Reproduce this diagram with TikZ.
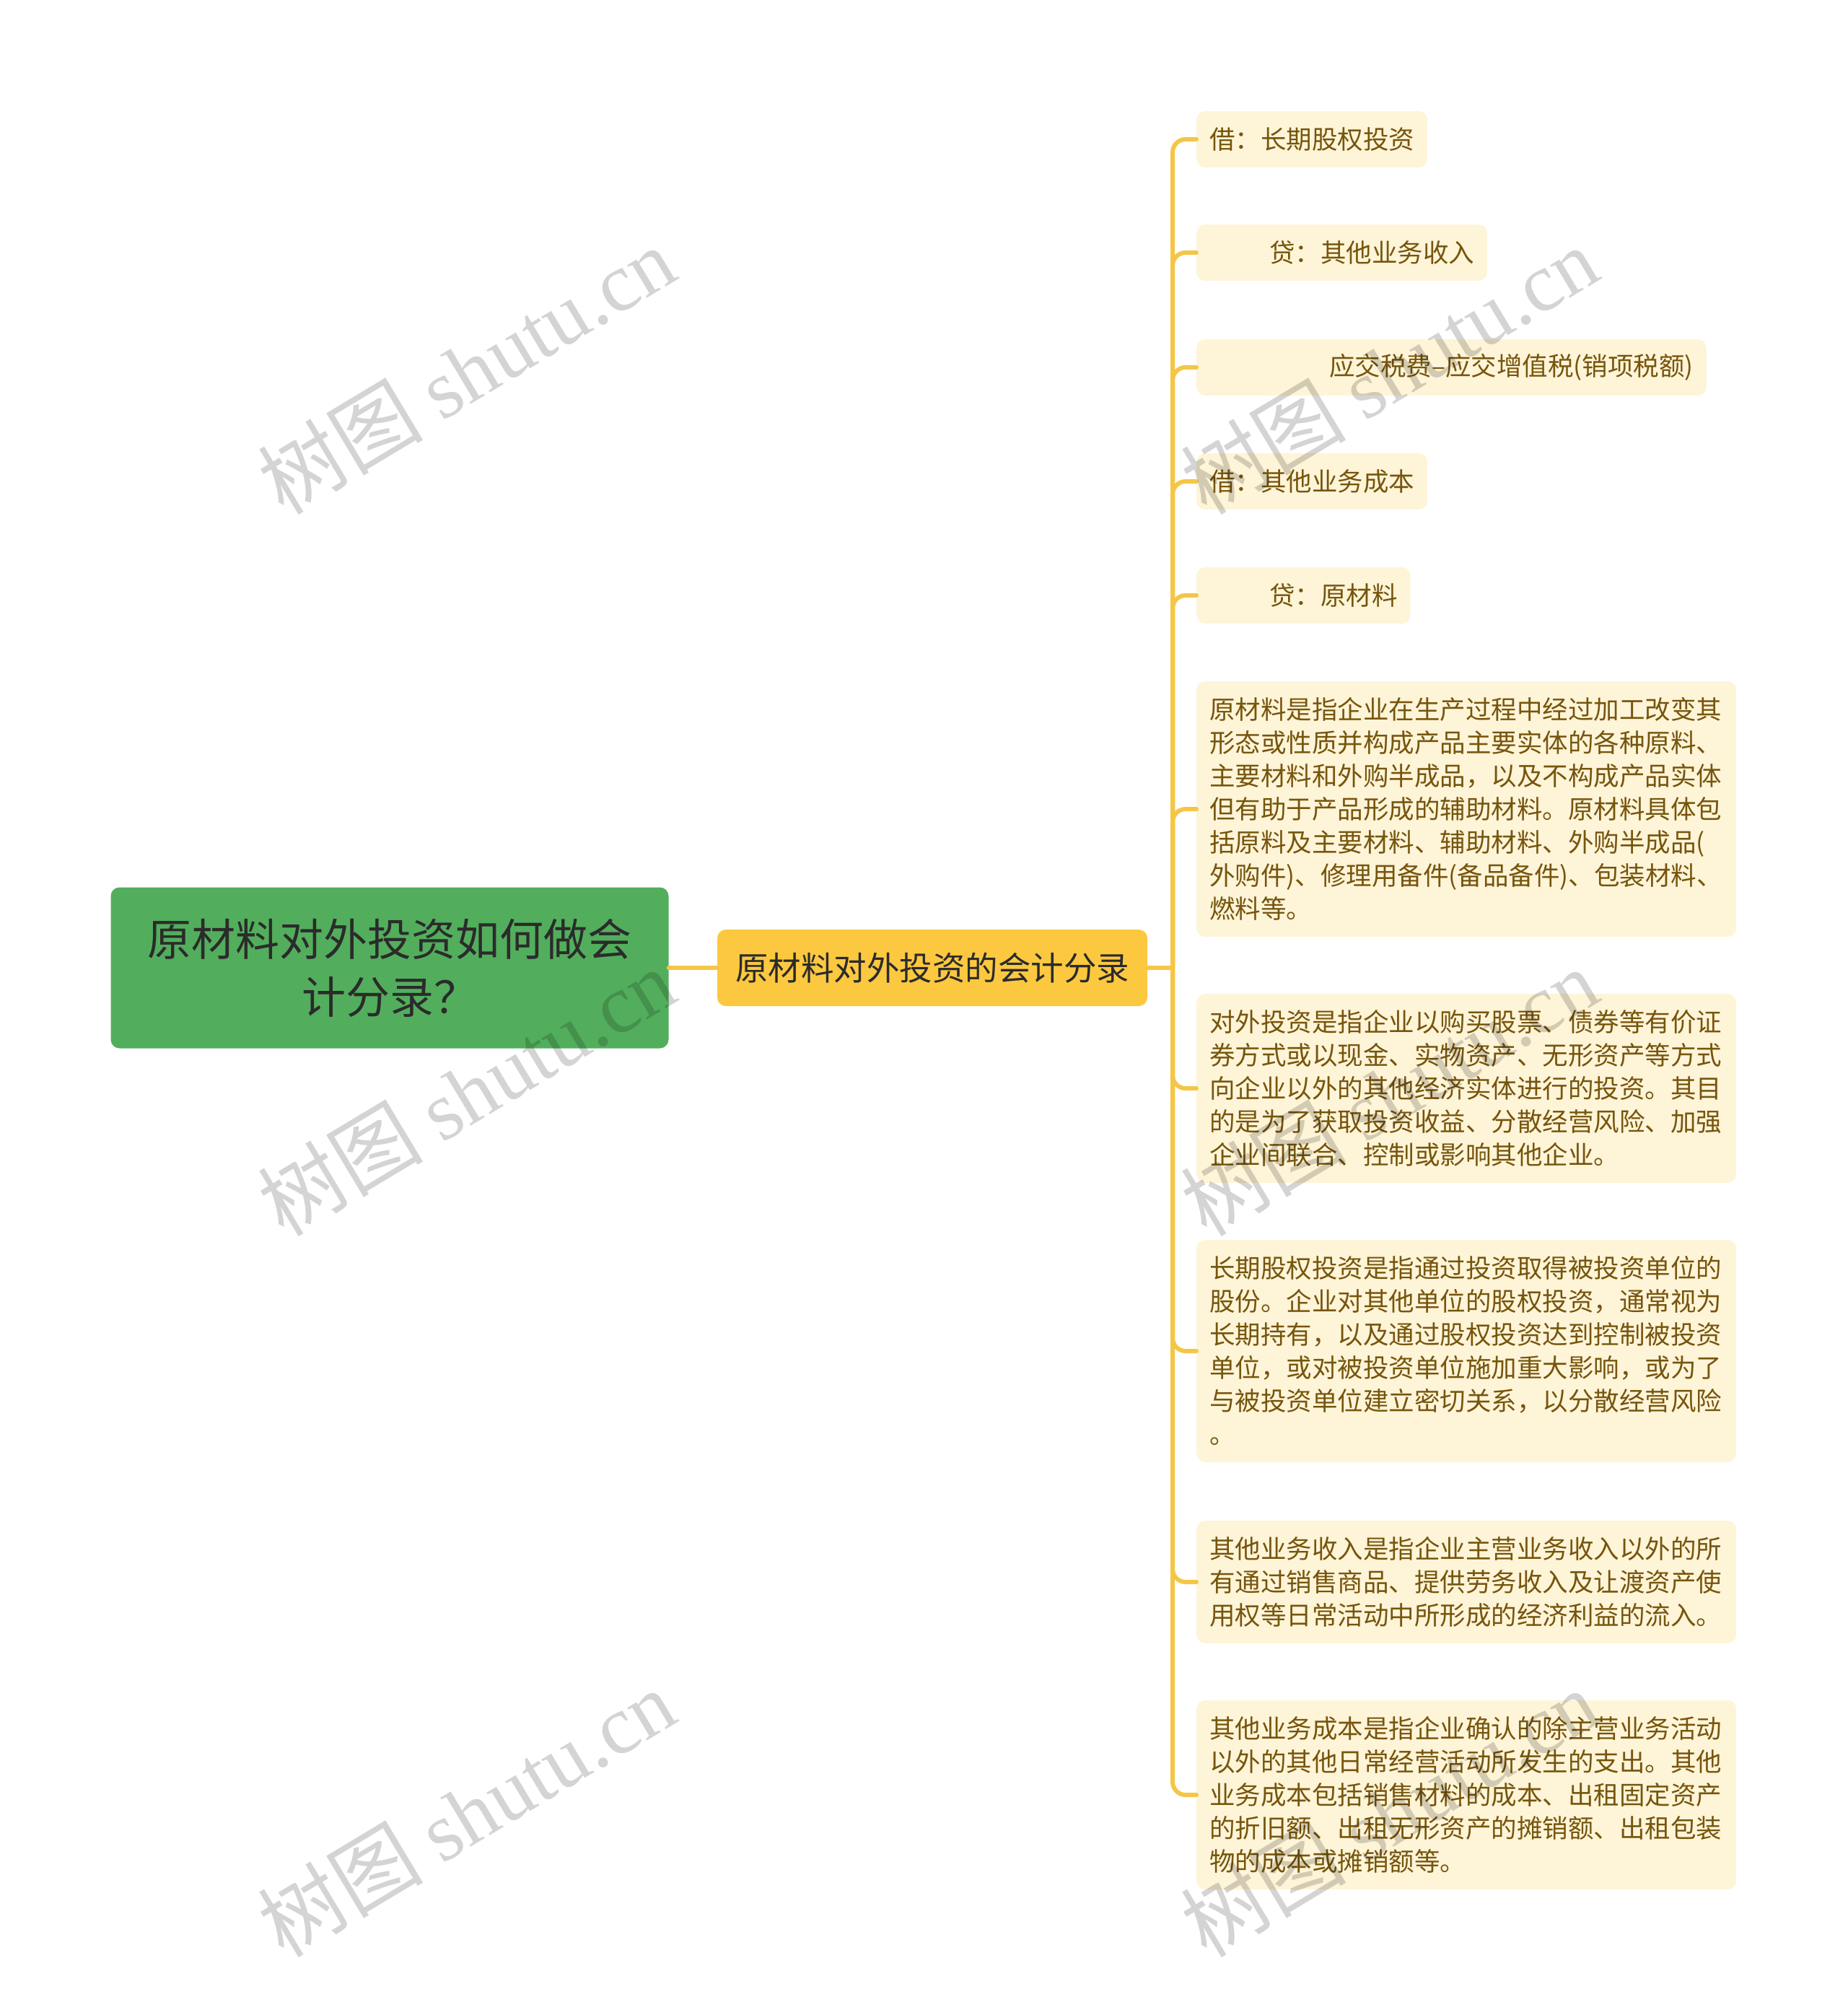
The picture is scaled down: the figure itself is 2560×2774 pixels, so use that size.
\documentclass[tikz,border=0pt]{standalone}
\usepackage{fontspec}
\setmainfont{Noto Sans CJK SC}
\newfontfamily\wmserif{Liberation Serif}
\definecolor{rootgreen}{HTML}{52AE5C}
\definecolor{roottext}{HTML}{2B2B2B}
\definecolor{midyellow}{HTML}{FCC840}
\definecolor{linkcol}{HTML}{F5C646}
\definecolor{leaffill}{HTML}{FEF4D8}
\definecolor{leaftext}{HTML}{76550C}
\begin{document}
\begin{tikzpicture}[x=1pt,y=-1pt,line join=round,line cap=round]
	\tikzset{leaf/.style={fill=leaffill,rounded corners=12pt,anchor=west,inner xsep=18pt,inner ysep=0pt,align=left,text=leaftext,font=\fontsize{35.5}{46}\selectfont},
		para/.style={leaf,text width=712pt},
		link/.style={draw=linkcol,line width=6pt,rounded corners=18pt},
		wmark/.style={rotate=31,text=black,text opacity=0.17,font=\fontsize{115}{115}\selectfont}}
	\useasboundingbox (0,0) rectangle (2560,2774);
	\node[fill=rootgreen,rounded corners=12pt,minimum width=773pt,minimum height=223pt,align=center,text=roottext,font=\fontsize{61}{80}\selectfont] (root) at (540,1341) {原材料对外投资如何做会\\计分录？};
	\node[fill=midyellow,rounded corners=12pt,minimum width=596pt,minimum height=106pt,text=roottext,font=\fontsize{45.5}{50}\selectfont] (mid) at (1292,1341) {原材料对外投资的会计分录};
	\coordinate (fork) at (1625,1341);
	\node[leaf,minimum height=78pt] (dr1) at (1658,193) {借：长期股权投资};
	\node[leaf,minimum height=78pt] (cr1) at (1658,350) {\hspace*{83pt}贷：其他业务收入};
	\node[leaf,minimum height=78pt] (cr2) at (1658,509) {\hspace*{166pt}应交税费–应交增值税(销项税额)};
	\node[leaf,minimum height=78pt] (dr2) at (1658,667) {借：其他业务成本};
	\node[leaf,minimum height=78pt] (cr3) at (1658,825) {\hspace*{83pt}贷：原材料};
	\node[para,minimum height=354pt] (rawdef) at (1658,1121) {原材料是指企业在生产过程中经过加工改变其\\形态或性质并构成产品主要实体的各种原料、\\主要材料和外购半成品，以及不构成产品实体\\但有助于产品形成的辅助材料。原材料具体包\\括原料及主要材料、辅助材料、外购半成品(\\外购件)、修理用备件(备品备件)、包装材料、\\燃料等。};
	\node[para,minimum height=262pt] (invdef) at (1658,1508) {对外投资是指企业以购买股票、债券等有价证\\券方式或以现金、实物资产、无形资产等方式\\向企业以外的其他经济实体进行的投资。其目\\的是为了获取投资收益、分散经营风险、加强\\企业间联合、控制或影响其他企业。};
	\node[para,minimum height=308pt] (ltidef) at (1658,1872) {长期股权投资是指通过投资取得被投资单位的\\股份。企业对其他单位的股权投资，通常视为\\长期持有，以及通过股权投资达到控制被投资\\单位，或对被投资单位施加重大影响，或为了\\与被投资单位建立密切关系，以分散经营风险\\。};
	\node[para,minimum height=170pt] (incdef) at (1658,2192) {其他业务收入是指企业主营业务收入以外的所\\有通过销售商品、提供劳务收入及让渡资产使\\用权等日常活动中所形成的经济利益的流入。};
	\node[para,minimum height=262pt] (costdef) at (1658,2487) {其他业务成本是指企业确认的除主营业务活动\\以外的其他日常经营活动所发生的支出。其他\\业务成本包括销售材料的成本、出租固定资产\\的折旧额、出租无形资产的摊销额、出租包装\\物的成本或摊销额等。};
	\draw[link] (root) -- (mid);
	\draw[link] (mid) -- (fork);
	\foreach \k in {dr1,cr1,cr2,dr2,cr3,rawdef,invdef,ltidef,incdef,costdef}
	\draw[link] (fork) |- (\k.west);
	\foreach \wx/\wy in {646/513,646/1513,646/2512,1925/513,1925/1513,1925/2512}
	\node[wmark] (wm-\wx-\wy) at (\wx,\wy) {树图 {\wmserif shutu.cn}};
\end{tikzpicture}
\end{document}
